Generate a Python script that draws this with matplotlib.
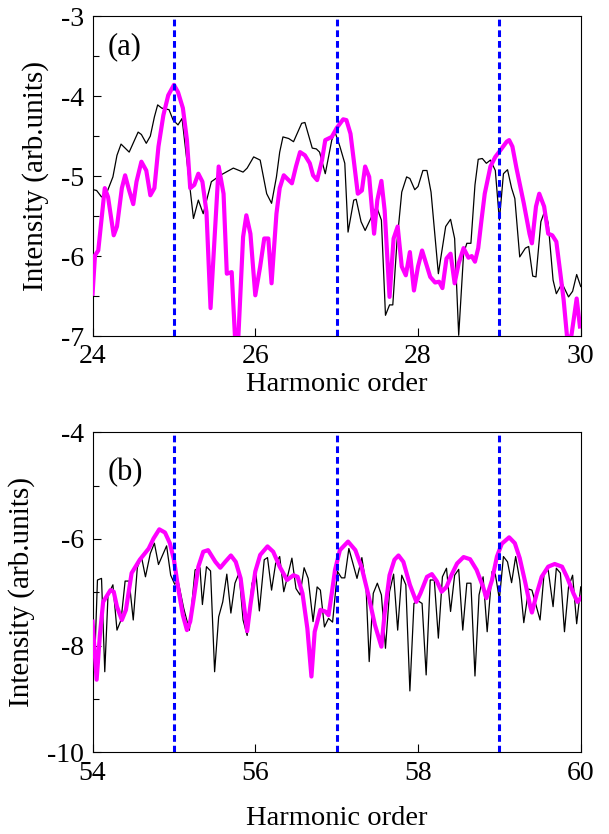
import matplotlib
matplotlib.use("Agg")
import matplotlib.pyplot as plt
from matplotlib.ticker import MultipleLocator

plt.rcParams['font.family'] = ['Liberation Serif', 'DejaVu Serif']
plt.rcParams['axes.unicode_minus'] = False

# panel (a): harmonics 24-30
a_black_x = [24.01, 24.05, 24.11, 24.17, 24.25, 24.30, 24.35, 24.45, 24.56, 24.60,
             24.66, 24.71, 24.76, 24.80, 24.85, 24.94, 24.99, 25.05, 25.10, 25.24,
             25.30, 25.36, 25.46, 25.57, 25.73, 25.85, 25.90, 25.98, 26.06, 26.14,
             26.20, 26.26, 26.30, 26.34, 26.41, 26.47, 26.57, 26.61, 26.70, 26.75,
             26.79, 26.86, 26.94, 26.98, 27.04, 27.10, 27.14, 27.21, 27.24, 27.30,
             27.35, 27.41, 27.49, 27.55, 27.60, 27.65, 27.69, 27.74, 27.80, 27.86,
             27.90, 27.96, 28.00, 28.06, 28.11, 28.16, 28.25, 28.34, 28.40, 28.45,
             28.50, 28.56, 28.60, 28.65, 28.70, 28.74, 28.79, 28.84, 28.89, 28.95,
             29.00, 29.05, 29.10, 29.15, 29.19, 29.25, 29.32, 29.36, 29.41, 29.45,
             29.51, 29.56, 29.60, 29.66, 29.70, 29.77, 29.85, 29.90, 29.95, 30.00]
a_black_y = [-5.17, -5.18, -5.26, -5.22, -5.01, -4.74, -4.60, -4.70, -4.45, -4.48,
             -4.59, -4.50, -4.26, -4.11, -4.15, -4.17, -4.30, -4.36, -4.28, -5.53,
             -5.30, -5.47, -5.07, -4.99, -4.90, -4.95, -4.90, -4.76, -4.80, -5.22,
             -5.34, -5.01, -4.70, -4.51, -4.53, -4.57, -4.34, -4.33, -4.65, -4.66,
             -4.70, -4.97, -4.55, -4.45, -4.63, -4.84, -5.70, -5.30, -5.29, -5.57,
             -5.68, -5.55, -5.38, -5.55, -6.74, -6.61, -6.61, -5.84, -5.20, -5.01,
             -5.03, -5.17, -5.13, -4.93, -4.93, -5.20, -6.22, -5.63, -5.54, -5.78,
             -6.99, -5.97, -5.84, -5.84, -5.11, -4.79, -4.78, -4.84, -4.80, -4.93,
             -5.55, -4.97, -4.92, -5.15, -5.28, -6.01, -5.90, -5.88, -6.25, -6.26,
             -5.57, -5.43, -5.59, -6.30, -6.47, -6.34, -6.51, -6.44, -6.23, -6.38]

a_mag_x = [24.00, 24.03, 24.07, 24.15, 24.19, 24.26, 24.30, 24.36, 24.40, 24.45,
           24.50, 24.54, 24.60, 24.66, 24.71, 24.76, 24.81, 24.87, 24.93, 25.00,
           25.05, 25.11, 25.16, 25.20, 25.25, 25.30, 25.35, 25.40, 25.45, 25.55,
           25.61, 25.65, 25.71, 25.75, 25.79, 25.85, 25.89, 25.94, 26.00, 26.06,
           26.11, 26.16, 26.20, 26.26, 26.30, 26.35, 26.45, 26.50, 26.55, 26.61,
           26.67, 26.71, 26.76, 26.82, 26.86, 26.94, 27.00, 27.08, 27.12, 27.17,
           27.21, 27.26, 27.31, 27.35, 27.40, 27.46, 27.50, 27.55, 27.59, 27.65,
           27.70, 27.75, 27.80, 27.85, 27.90, 27.95, 28.00, 28.05, 28.15, 28.21,
           28.26, 28.30, 28.35, 28.40, 28.45, 28.50, 28.56, 28.62, 28.66, 28.70,
           28.74, 28.78, 28.82, 28.89, 28.95, 29.01, 29.09, 29.12, 29.16, 29.21,
           29.30, 29.37, 29.40, 29.45, 29.49, 29.55, 29.60, 29.65, 29.70, 29.75,
           29.79, 29.83, 29.88, 29.95, 29.99]
a_mag_y = [-6.47, -5.99, -5.93, -5.15, -5.26, -5.74, -5.63, -5.15, -4.99, -5.18,
           -5.35, -5.07, -4.82, -4.93, -5.24, -5.15, -4.63, -4.24, -3.99, -3.86,
           -3.95, -4.15, -4.55, -5.15, -5.11, -4.97, -5.07, -5.45, -6.65, -4.88,
           -5.22, -6.22, -6.20, -7.00, -7.05, -5.76, -5.49, -5.72, -6.49, -6.13,
           -5.78, -5.78, -6.34, -5.47, -5.15, -4.99, -5.09, -4.88, -4.70, -4.74,
           -4.84, -4.99, -5.05, -4.80, -4.55, -4.51, -4.40, -4.29, -4.30, -4.47,
           -4.80, -5.22, -5.18, -4.88, -5.01, -5.72, -5.30, -5.06, -5.43, -6.51,
           -5.78, -5.63, -6.13, -6.24, -5.95, -6.43, -6.13, -5.93, -6.26, -6.33,
           -6.32, -6.40, -6.03, -5.97, -6.34, -6.09, -5.90, -6.02, -6.00, -6.07,
           -5.90, -5.55, -5.22, -4.88, -4.76, -4.68, -4.57, -4.55, -4.63, -4.90,
           -5.34, -5.72, -5.84, -5.38, -5.22, -5.38, -5.72, -5.74, -5.82, -6.22,
           -6.55, -6.99, -7.03, -6.53, -6.88]

# panel (b): harmonics 54-60
b_black_x = [54.00, 54.03, 54.06, 54.11, 54.15, 54.19, 54.25, 54.30, 54.35, 54.40,
             54.45, 54.50, 54.55, 54.60, 54.65, 54.71, 54.76, 54.81, 54.91, 54.96,
             55.01, 55.05, 55.12, 55.19, 55.26, 55.32, 55.35, 55.40, 55.45, 55.50,
             55.55, 55.60, 55.65, 55.70, 55.75, 55.80, 55.85, 55.90, 55.96, 56.01,
             56.05, 56.11, 56.15, 56.20, 56.25, 56.30, 56.35, 56.40, 56.45, 56.50,
             56.55, 56.60, 56.65, 56.71, 56.76, 56.80, 56.85, 56.90, 56.95, 57.01,
             57.06, 57.10, 57.15, 57.20, 57.25, 57.31, 57.36, 57.40, 57.45, 57.50,
             57.55, 57.60, 57.65, 57.70, 57.75, 57.80, 57.85, 57.90, 57.95, 58.00,
             58.05, 58.10, 58.15, 58.20, 58.25, 58.30, 58.35, 58.40, 58.45, 58.50,
             58.55, 58.60, 58.65, 58.70, 58.75, 58.80, 58.85, 58.91, 58.95, 59.00,
             59.05, 59.10, 59.15, 59.20, 59.25, 59.30, 59.36, 59.40, 59.50, 59.55,
             59.60, 59.66, 59.70, 59.75, 59.80, 59.85, 59.90, 59.95, 60.00]
b_black_y = [-7.55, -8.11, -6.77, -6.74, -8.49, -7.05, -6.86, -7.71, -7.52, -6.79,
             -6.79, -7.52, -6.54, -6.33, -6.71, -6.27, -6.08, -6.48, -6.13, -6.68,
             -6.85, -6.78, -7.30, -7.71, -6.58, -6.54, -7.23, -6.52, -6.60, -8.49,
             -7.46, -7.18, -6.66, -7.39, -6.83, -6.64, -7.52, -7.81, -6.83, -6.68,
             -7.35, -6.39, -6.35, -6.96, -6.46, -6.33, -6.99, -6.68, -6.36, -6.93,
             -7.05, -6.54, -6.74, -7.55, -6.90, -6.96, -7.65, -7.49, -7.56, -6.61,
             -6.73, -6.73, -6.18, -6.46, -6.74, -6.35, -6.86, -8.30, -7.02, -6.83,
             -7.05, -8.05, -6.99, -6.66, -7.71, -6.68, -6.86, -8.85, -7.21, -7.16,
             -7.21, -8.55, -6.77, -6.77, -7.86, -6.71, -6.55, -7.36, -6.68, -6.57,
             -7.71, -6.83, -6.83, -8.57, -7.05, -6.71, -7.74, -6.61, -6.66, -7.13,
             -6.33, -6.43, -6.82, -6.33, -6.77, -7.57, -6.94, -6.96, -7.52, -6.64,
             -6.58, -7.27, -6.55, -6.64, -7.74, -6.90, -6.68, -7.59, -6.90]

b_mag_x = [54.00, 54.05, 54.09, 54.13, 54.22, 54.26, 54.30, 54.36, 54.41, 54.48,
           54.58, 54.69, 54.75, 54.82, 54.89, 54.95, 55.00, 55.05, 55.11, 55.16,
           55.20, 55.25, 55.30, 55.36, 55.42, 55.51, 55.57, 55.63, 55.70, 55.76,
           55.82, 55.87, 55.90, 55.94, 56.00, 56.06, 56.15, 56.22, 56.30, 56.39,
           56.47, 56.52, 56.58, 56.64, 56.69, 56.73, 56.80, 56.86, 56.90, 56.94,
           56.98, 57.04, 57.14, 57.23, 57.31, 57.39, 57.47, 57.55, 57.59, 57.65,
           57.71, 57.76, 57.82, 57.90, 57.98, 58.03, 58.11, 58.17, 58.23, 58.29,
           58.35, 58.41, 58.48, 58.56, 58.64, 58.72, 58.80, 58.84, 58.91, 58.97,
           59.03, 59.12, 59.19, 59.25, 59.32, 59.38, 59.40, 59.46, 59.52, 59.60,
           59.68, 59.77, 59.83, 59.91, 59.96, 60.00]
b_mag_y = [-7.55, -8.64, -7.80, -7.18, -6.96, -6.99, -7.27, -7.52, -7.33, -6.64,
           -6.39, -6.18, -5.99, -5.82, -5.88, -6.08, -6.39, -6.90, -7.43, -7.71,
           -7.55, -7.05, -6.52, -6.24, -6.21, -6.43, -6.54, -6.43, -6.31, -6.43,
           -6.74, -7.36, -7.73, -7.24, -6.61, -6.30, -6.14, -6.24, -6.52, -6.77,
           -6.68, -6.71, -7.02, -7.68, -8.58, -7.74, -7.33, -7.36, -7.43, -7.02,
           -6.58, -6.21, -6.05, -6.21, -6.55, -7.05, -7.61, -8.02, -7.39, -6.68,
           -6.39, -6.31, -6.43, -6.86, -7.18, -7.02, -6.71, -6.66, -6.79, -6.99,
           -6.90, -6.68, -6.46, -6.34, -6.38, -6.58, -6.90, -7.11, -6.77, -6.33,
           -6.09, -5.97, -6.08, -6.36, -6.83, -7.27, -7.38, -7.02, -6.71, -6.52,
           -6.47, -6.52, -6.71, -7.02, -7.18, -7.11]

a_marks = [25, 27, 29]
b_marks = [55, 57, 59]

fig = plt.figure(figsize=(6.09, 8.34), dpi=100)
ax1 = fig.add_axes([0.152, 0.597, 0.8016, 0.3837])
ax2 = fig.add_axes([0.152, 0.098, 0.8016, 0.3837])

panels = [
    (ax1, a_black_x, a_black_y, a_mag_x, a_mag_y, a_marks, (24, 30), (-7, -3), 1, 0.5, '(a)', 0.905, 2),
    (ax2, b_black_x, b_black_y, b_mag_x, b_mag_y, b_marks, (54, 60), (-10, -4), 2, 1, '(b)', 0.875, 15),
]

for ax, bx, by, mx, my, marks, xlim, ylim, ymaj, ymin, tag, ty, xpad in panels:
    ax.plot(bx, by, color='black', lw=0.9, zorder=3)
    ax.plot(mx, my, color='#ff00ff', lw=3.0, zorder=4, solid_joinstyle='round')
    for m in marks:
        ax.axvline(m, color='#0000ff', lw=2.2, linestyle=(0, (2.2, 1.3)), zorder=5)
    ax.set_xlim(*xlim)
    ax.set_ylim(*ylim)
    ax.xaxis.set_major_locator(MultipleLocator(2))
    ax.yaxis.set_major_locator(MultipleLocator(ymaj))
    ax.yaxis.set_minor_locator(MultipleLocator(ymin))
    ax.tick_params(which='both', direction='in', top=False, right=False, labelsize=20, pad=6)
    ax.tick_params(which='major', length=6, width=0.8)
    ax.tick_params(which='minor', length=4, width=0.8)
    ax.set_xlabel('Harmonic order', fontsize=20.5, labelpad=xpad)
    ax.set_ylabel('Intensity (arb.units)', fontsize=21, labelpad=9)
    ax.text(0.03, ty, tag, transform=ax.transAxes, fontsize=22, va='center', ha='left')
    for s in ax.spines.values():
        s.set_linewidth(0.8)

fig.savefig('out.png', dpi=100)
